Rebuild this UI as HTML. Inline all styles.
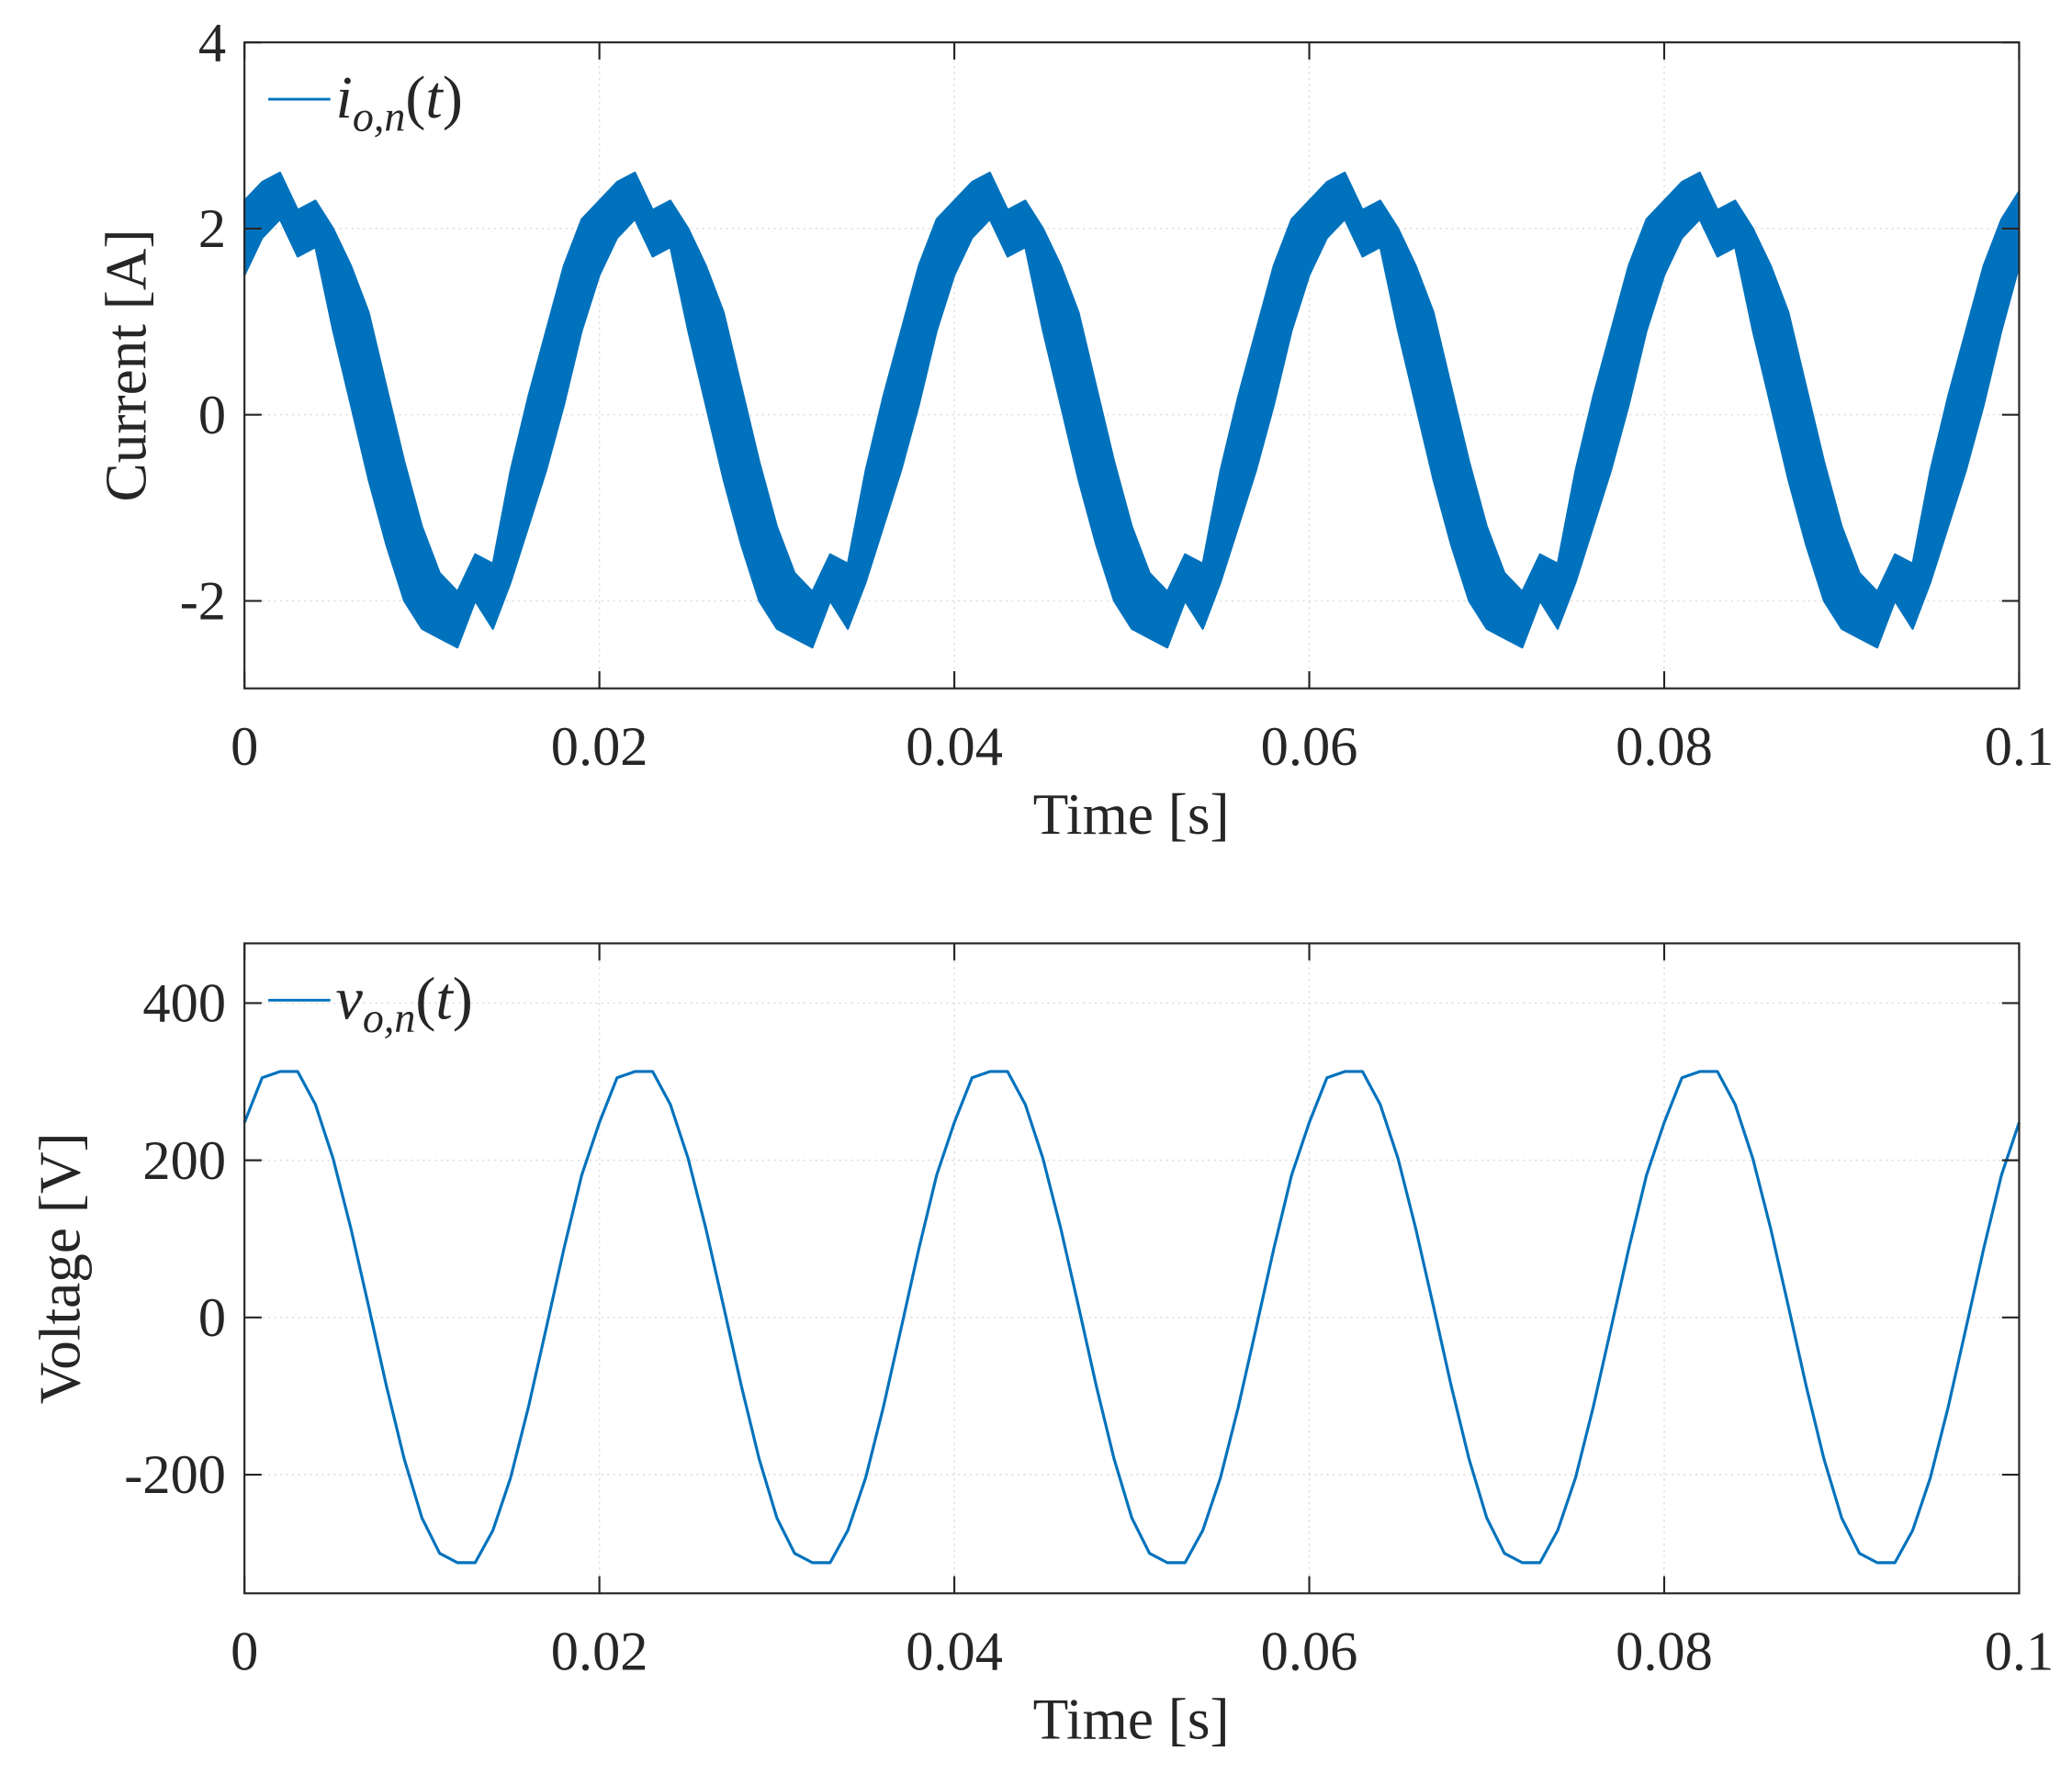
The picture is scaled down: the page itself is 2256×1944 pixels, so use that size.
<!DOCTYPE html>
<html><head><meta charset="utf-8"><style>
html,body{margin:0;padding:0;background:#fff}
svg{display:block}
text{font-family:"Liberation Serif","DejaVu Serif",serif;fill:#262626}
</style></head><body>
<svg id="chart" width="2256" height="1944" viewBox="0 0 1568 1351" xmlns="http://www.w3.org/2000/svg"></svg>
<script>
const timeTicks = [0, 0.02, 0.04, 0.06, 0.08, 0.1];
const timeTickLabels = ["0", "0.02", "0.04", "0.06", "0.08", "0.1"];
const currentTicks = [-2, 0, 2, 4];
const currentTickLabels = ["-2", "0", "2", "4"];
const voltageTicks = [-200, 0, 200, 400];
const voltageTickLabels = ["-200", "0", "200", "400"];
const time = [];
for (let i = 0; i <= 100; i++) time.push(i * 0.001);
const currentUpper = [
2.3,2.5,2.6,2.2,2.3,2.0,1.6,1.1,0.3,-0.5,-1.2,-1.7,-1.9,-1.5,-1.6,-0.6,0.2,0.9,1.6,2.1,
2.3,2.5,2.6,2.2,2.3,2.0,1.6,1.1,0.3,-0.5,-1.2,-1.7,-1.9,-1.5,-1.6,-0.6,0.2,0.9,1.6,2.1,
2.3,2.5,2.6,2.2,2.3,2.0,1.6,1.1,0.3,-0.5,-1.2,-1.7,-1.9,-1.5,-1.6,-0.6,0.2,0.9,1.6,2.1,
2.3,2.5,2.6,2.2,2.3,2.0,1.6,1.1,0.3,-0.5,-1.2,-1.7,-1.9,-1.5,-1.6,-0.6,0.2,0.9,1.6,2.1,
2.3,2.5,2.6,2.2,2.3,2.0,1.6,1.1,0.3,-0.5,-1.2,-1.7,-1.9,-1.5,-1.6,-0.6,0.2,0.9,1.6,2.1,
2.4];
const currentLower = [
1.5,1.9,2.1,1.7,1.8,0.9,0.1,-0.7,-1.4,-2.0,-2.3,-2.4,-2.5,-2.0,-2.3,-1.8,-1.2,-0.6,0.1,0.9,
1.5,1.9,2.1,1.7,1.8,0.9,0.1,-0.7,-1.4,-2.0,-2.3,-2.4,-2.5,-2.0,-2.3,-1.8,-1.2,-0.6,0.1,0.9,
1.5,1.9,2.1,1.7,1.8,0.9,0.1,-0.7,-1.4,-2.0,-2.3,-2.4,-2.5,-2.0,-2.3,-1.8,-1.2,-0.6,0.1,0.9,
1.5,1.9,2.1,1.7,1.8,0.9,0.1,-0.7,-1.4,-2.0,-2.3,-2.4,-2.5,-2.0,-2.3,-1.8,-1.2,-0.6,0.1,0.9,
1.5,1.9,2.1,1.7,1.8,0.9,0.1,-0.7,-1.4,-2.0,-2.3,-2.4,-2.5,-2.0,-2.3,-1.8,-1.2,-0.6,0.1,0.9,
1.6];
const voltage = [
248,305,313,313,271,202,113,14,-87,-180,-255,-300,-312,-312,-271,-204,-114,-14,87,181,
248,305,313,313,271,202,113,14,-87,-180,-255,-300,-312,-312,-271,-204,-114,-14,87,181,
248,305,313,313,271,202,113,14,-87,-180,-255,-300,-312,-312,-271,-204,-114,-14,87,181,
248,305,313,313,271,202,113,14,-87,-180,-255,-300,-312,-312,-271,-204,-114,-14,87,181,
248,305,313,313,271,202,113,14,-87,-180,-255,-300,-312,-312,-271,-204,-114,-14,87,181,
248];

const NS = "http://www.w3.org/2000/svg";
const svg = document.getElementById("chart");
function mk(tag, attrs, parent) {
  const e = document.createElementNS(NS, tag);
  for (const k in attrs) e.setAttribute(k, attrs[k]);
  (parent || svg).appendChild(e);
  return e;
}
const X0 = 185, X1 = 1528;
const xs = t => X0 + (t - 0) / 0.1 * (X1 - X0);

function panel(cfg) {
  const g = mk("g", {});
  
  
  const ys = v => cfg.top + (cfg.ymax - v) / (cfg.ymax - cfg.ymin) * (cfg.bot - cfg.top);
  timeTicks.forEach(t => { const l = mk("line", {x1: xs(t), x2: xs(t), y1: cfg.top, y2: cfg.bot, stroke: "#dcdcdc", "stroke-width": 1, "stroke-dasharray": "1.5 3"}, g);
      });
  cfg.ticks.forEach(v => { const l = mk("line", {x1: X0, x2: X1, y1: ys(v), y2: ys(v), stroke: "#dcdcdc", "stroke-width": 1, "stroke-dasharray": "1.5 3"}, g);
      });
  if (cfg.band) {
    let d = "";
    time.forEach((t, i) => { d += (i ? "L" : "M") + xs(t).toFixed(1) + "," + ys(currentUpper[i]).toFixed(1); });
    for (let i = time.length - 1; i >= 0; i--) d += "L" + xs(time[i]).toFixed(1) + "," + ys(currentLower[i]).toFixed(1);
    const p = mk("path", {d: d + "Z", fill: "#0072BD", stroke: "#0072BD", "stroke-width": 1.5, "stroke-linejoin": "round"}, g);
    
    
  } else {
    let d = "";
    time.forEach((t, i) => { d += (i ? "L" : "M") + xs(t).toFixed(1) + "," + ys(voltage[i]).toFixed(1); });
    const p = mk("path", {d: d, fill: "none", stroke: "#0072BD", "stroke-width": 2.2, "stroke-linejoin": "round"}, g);
    
    
  }
  const r = mk("rect", {x: X0, y: cfg.top, width: X1 - X0, height: cfg.bot - cfg.top, fill: "none", stroke: "#262626", "stroke-width": 1.5}, g);
  
  
  timeTicks.forEach((t, i) => {
    mk("line", {x1: xs(t), x2: xs(t), y1: cfg.bot, y2: cfg.bot - 13, stroke: "#262626", "stroke-width": 1.5}, g);
    mk("line", {x1: xs(t), x2: xs(t), y1: cfg.top, y2: cfg.top + 13, stroke: "#262626", "stroke-width": 1.5}, g);
    const tx = mk("text", {x: xs(t), y: cfg.bot + 58, "font-size": 42, "text-anchor": "middle"}, g);
    tx.textContent = timeTickLabels[i];
    
    
  });
  cfg.ticks.forEach((v, i) => {
    mk("line", {x1: X0, x2: X0 + 13, y1: ys(v), y2: ys(v), stroke: "#262626", "stroke-width": 1.5}, g);
    mk("line", {x1: X1, x2: X1 - 13, y1: ys(v), y2: ys(v), stroke: "#262626", "stroke-width": 1.5}, g);
    const tx = mk("text", {x: 171, y: ys(v) + 14, "font-size": 42, "text-anchor": "end"}, g);
    tx.textContent = cfg.tickLabels[i];
    
    
  });
  const xl = mk("text", {x: 856, y: cfg.bot + 110, "font-size": 44, "text-anchor": "middle"}, g);
  xl.textContent = "Time [s]";
  
  
  const yl = mk("text", {x: 0, y: 0, "font-size": 44, "text-anchor": "middle", transform: `translate(${cfg.ylx},${(cfg.top + cfg.bot) / 2}) rotate(-90)`}, g);
  yl.textContent = cfg.ylabel;
  
  
  const lg = mk("g", {}, g);
  
  
  mk("line", {x1: 203, x2: 250, y1: cfg.top + 43, y2: cfg.top + 43, stroke: "#0072BD", "stroke-width": 2}, lg);
  const lt = mk("text", {x: 254, y: cfg.top + 57, "font-size": 46, "font-style": "italic"}, lg);
  lt.innerHTML = cfg.leg + '<tspan font-size="32" dy="10">o,n</tspan><tspan dy="-10" font-style="normal">(</tspan>t<tspan font-style="normal">)</tspan>';
}
panel({name: "current-panel", top: 32, bot: 521, ymin: -2.94, ymax: 4, ticks: currentTicks, tickLabels: currentTickLabels, ylabel: "Current [A]", ylx: 110, band: true, leg: "i"});
panel({name: "voltage-panel", top: 714, bot: 1206, ymin: -351, ymax: 476, ticks: voltageTicks, tickLabels: voltageTickLabels, ylabel: "Voltage [V]", ylx: 60, band: false, leg: "v"});
</script>
</body></html>
